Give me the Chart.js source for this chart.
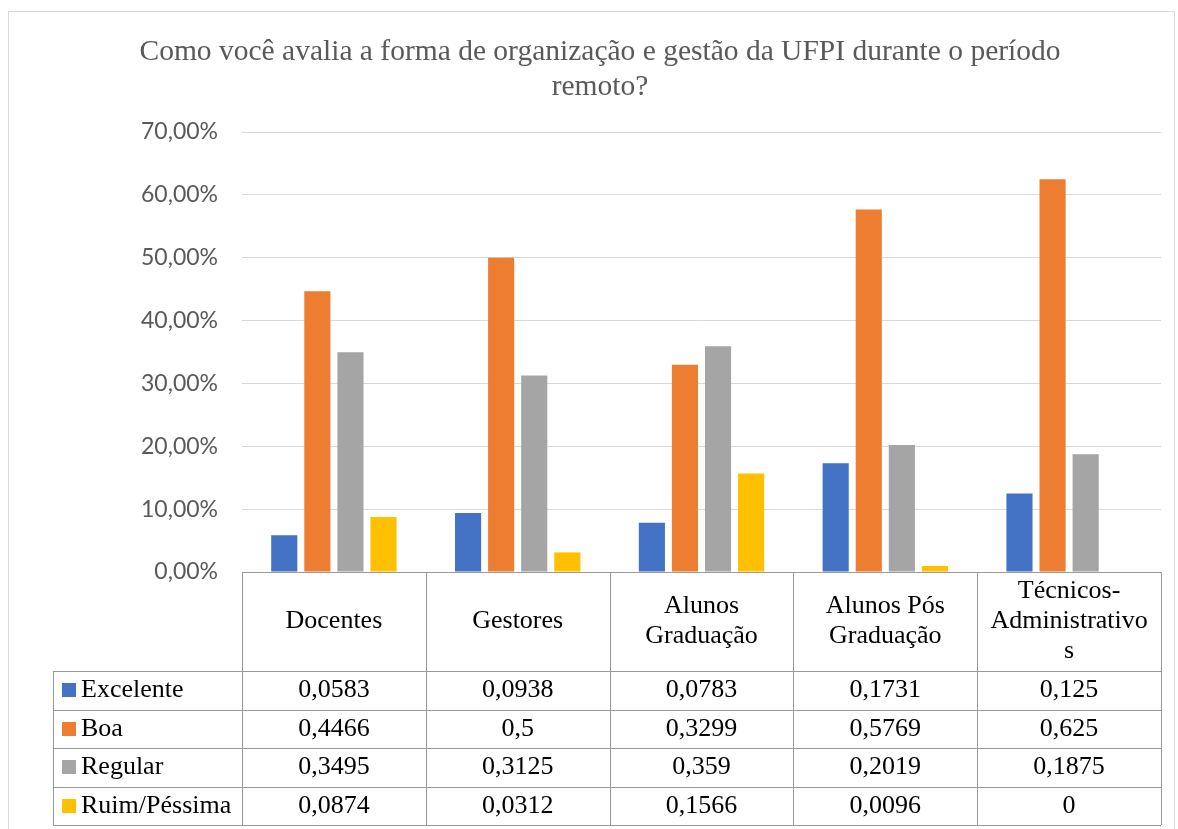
<!DOCTYPE html>
<html lang="pt-BR">
<head>
<meta charset="utf-8">
<title>Organização e gestão da UFPI no período remoto</title>
<script src="https://cdn.jsdelivr.net/npm/chart.js@4.4.1/dist/chart.umd.min.js"></script>
<style>
  html, body { margin: 0; padding: 0; background: #fff; }
  canvas { display: block; }
</style>
</head>
<body>
<canvas id="chart" width="1178" height="829"></canvas>
<script>
const titleLines = [
  'Como você avalia a forma de organização e gestão da UFPI durante o período',
  'remoto?'
];
const categories = [
  ['Docentes'],
  ['Gestores'],
  ['Alunos', 'Graduação'],
  ['Alunos Pós', 'Graduação'],
  ['Técnicos-', 'Administrativo', 's']
];
const seriesNames = ['Excelente', 'Boa', 'Regular', 'Ruim/Péssima'];
const excelente = [0.0583, 0.0938, 0.0783, 0.1731, 0.125];
const boa = [0.4466, 0.5, 0.3299, 0.5769, 0.625];
const regular = [0.3495, 0.3125, 0.359, 0.2019, 0.1875];
const ruim = [0.0874, 0.0312, 0.1566, 0.0096, 0];
const yMax = 0.7;
const yStep = 0.1;

const seriesValues = [excelente, boa, regular, ruim];
const seriesColors = ['#4472c4', '#ed7d31', '#a5a5a5', '#ffc000'];

const SERIF = '"Liberation Serif", "Times New Roman", serif';
const HEAD_H = 99;   // altura da linha com os nomes das categorias
const ROW_H = 38.5;  // altura das linhas de valores
const KEY_LEFT = 53; // borda esquerda da coluna da legenda

const fmtValue = v => String(v).replace('.', ',');
const fmtPercent = v => (v * 100).toFixed(2).replace('.', ',') + '%';

// título e moldura externa
const frame = {
  id: 'frame',
  beforeDraw(chart) {
    const { ctx, width } = chart;
    ctx.save();
    ctx.strokeStyle = '#d9d9d9';
    ctx.lineWidth = 1;
    ctx.strokeRect(8.5, 11.5, width - 12, chart.height + 10);
    ctx.fillStyle = '#595959';
    ctx.font = '29.5px ' + SERIF;
    ctx.textAlign = 'center';
    ctx.textBaseline = 'middle';
    titleLines.forEach((line, i) => ctx.fillText(line, 600, 52 + i * 35));
    ctx.restore();
  }
};

// tabela de dados abaixo do eixo, no estilo do Excel
const dataTable = {
  id: 'dataTable',
  afterDraw(chart) {
    const { ctx, chartArea } = chart;
    const x = chart.scales.x;
    const colW = (chartArea.right - chartArea.left) / categories.length;
    const top = chartArea.bottom;
    const headBottom = top + HEAD_H;
    const bottom = headBottom + ROW_H * seriesNames.length;
    const left = chartArea.left;
    const right = chartArea.right;
    const px = v => Math.round(v) + 0.5;

    ctx.save();
    ctx.strokeStyle = '#999999';
    ctx.lineWidth = 1;
    ctx.beginPath();
    ctx.moveTo(left, px(top));
    ctx.lineTo(right, px(top));
    for (let r = 0; r <= seriesNames.length; r++) {
      const y = px(headBottom + r * ROW_H);
      ctx.moveTo(KEY_LEFT, y);
      ctx.lineTo(right, y);
    }
    for (let c = 0; c <= categories.length; c++) {
      const xx = px(left + c * colW);
      ctx.moveTo(xx, top);
      ctx.lineTo(xx, bottom);
    }
    ctx.moveTo(px(KEY_LEFT), headBottom);
    ctx.lineTo(px(KEY_LEFT), bottom);
    ctx.stroke();

    ctx.fillStyle = '#000';
    ctx.font = '26px ' + SERIF;
    ctx.textAlign = 'center';
    ctx.textBaseline = 'middle';
    categories.forEach((lines, i) => {
      const cx = x.getPixelForValue(i);
      const cy = top + HEAD_H / 2;
      lines.forEach((line, j) => {
        ctx.fillText(line, cx, cy + (j - (lines.length - 1) / 2) * 30);
      });
    });

    seriesNames.forEach((name, r) => {
      const cy = headBottom + r * ROW_H + ROW_H / 2;
      ctx.fillStyle = seriesColors[r];
      ctx.fillRect(62, Math.round(cy - 7), 14, 14);
      ctx.fillStyle = '#000';
      ctx.textAlign = 'left';
      ctx.fillText(name, 81, cy);
      ctx.textAlign = 'center';
      seriesValues[r].forEach((v, i) => {
        ctx.fillText(fmtValue(v), x.getPixelForValue(i), cy);
      });
    });
    ctx.restore();
  }
};

new Chart(document.getElementById('chart'), {
  type: 'bar',
  data: {
    labels: categories,
    datasets: seriesNames.map((name, i) => ({
      label: name,
      data: seriesValues[i],
      backgroundColor: seriesColors[i],
      borderWidth: 0,
      categoryPercentage: 0.72,
      barPercentage: 0.79
    }))
  },
  options: {
    responsive: false,
    animation: false,
    layout: { padding: { left: 10, right: 17, top: 132, bottom: 257 } },
    plugins: {
      legend: { display: false },
      title: { display: false },
      tooltip: { enabled: false }
    },
    scales: {
      x: { display: false },
      y: {
        min: 0,
        max: yMax,
        afterFit(scale) { scale.width = 232; },
        ticks: {
          stepSize: yStep,
          padding: 24,
          color: '#595959',
          font: { family: 'Lato, "Liberation Sans", sans-serif', size: 23 },
          callback: v => fmtPercent(v)
        },
        grid: { color: '#d9d9d9', drawTicks: false },
        border: { display: false }
      }
    }
  },
  plugins: [frame, dataTable]
});
</script>
</body>
</html>
